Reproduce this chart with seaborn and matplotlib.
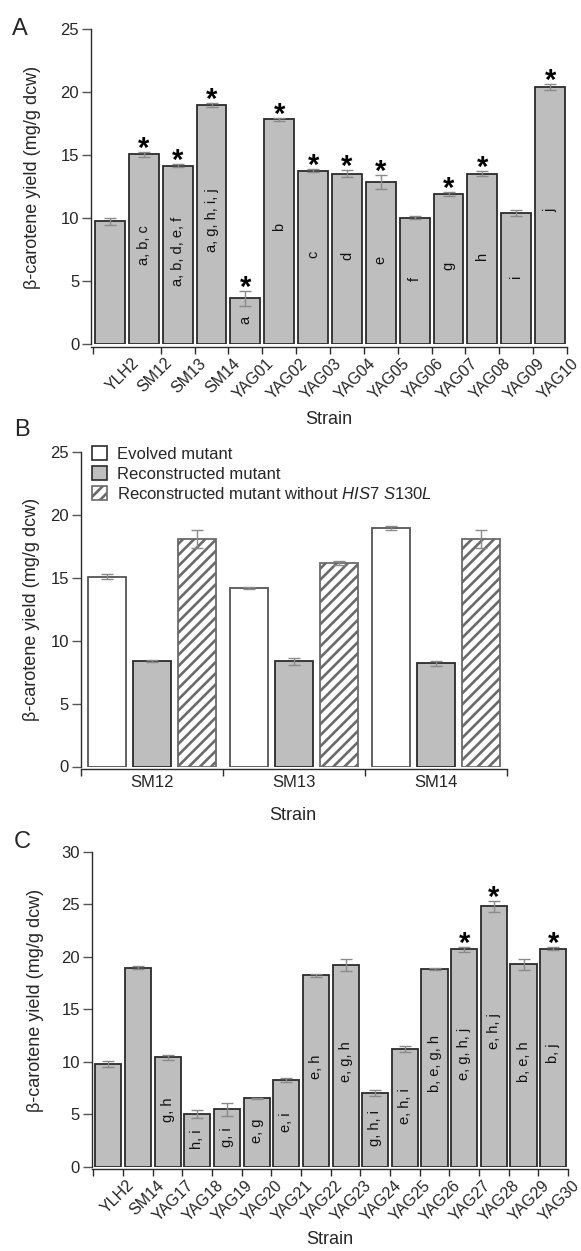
import numpy as np
import pandas as pd
import matplotlib
matplotlib.use("Agg")
import matplotlib.pyplot as plt
import seaborn as sns
from matplotlib.patches import Patch
from matplotlib.transforms import ScaledTranslation

# ---------------- data ----------------
strains_a = ["YLH2", "SM12", "SM13", "SM14", "YAG01", "YAG02", "YAG03", "YAG04",
             "YAG05", "YAG06", "YAG07", "YAG08", "YAG09", "YAG10"]
yield_a = [9.75, 15.08, 14.17, 18.97, 3.65, 17.86, 13.78, 13.55, 12.86, 10.05,
           11.95, 13.55, 10.42, 20.42]
err_a = [0.3, 0.2, 0.1, 0.15, 0.6, 0.1, 0.12, 0.25, 0.55, 0.1, 0.15, 0.2, 0.2, 0.25]
sig_a = [False, True, True, True, True, True, True, True, True, False, True, True,
         False, True]
groups_a = ["", "a, b, c", "a, b, d, e, f", "a, g, h, i, j", "a", "b", "c", "d",
            "e", "f", "g", "h", "i", "j"]

strains_b = ["SM12", "SM13", "SM14"]
types_b = ["Evolved mutant", "Reconstructed mutant",
           "Reconstructed mutant without HIS7 S130L"]
evolved_b = [15.08, 14.17, 18.97]
evolved_err_b = [0.2, 0.1, 0.15]
recon_b = [8.38, 8.35, 8.22]
recon_err_b = [0.1, 0.25, 0.2]
recon_wo_b = [18.1, 16.2, 18.1]
recon_wo_err_b = [0.7, 0.15, 0.7]

strains_c = ["YLH2", "SM14", "YAG17", "YAG18", "YAG19", "YAG20", "YAG21", "YAG22",
             "YAG23", "YAG24", "YAG25", "YAG26", "YAG27", "YAG28", "YAG29", "YAG30"]
yield_c = [9.78, 18.95, 10.42, 5.02, 5.46, 6.5, 8.22, 18.23, 19.2, 7.02, 11.18,
           18.86, 20.7, 24.8, 19.27, 20.76]
err_c = [0.3, 0.15, 0.25, 0.35, 0.6, 0.05, 0.2, 0.15, 0.6, 0.3, 0.3, 0.1, 0.25,
         0.5, 0.5, 0.15]
sig_c = [False] * 12 + [True, True, False, True]
groups_c = ["", "", "g, h", "h, i", "g, i", "e, g", "e, i", "e, h", "e, g, h",
            "g, h, i", "e, h, i", "b, e, g, h", "e, g, h, j", "e, h, j", "b, e, h",
            "b, j"]

# ---------------- style ----------------
sns.set_theme(style="white")
plt.rcParams["font.family"] = ["Liberation Sans", "DejaVu Sans"]
plt.rcParams["mathtext.fontset"] = "custom"
plt.rcParams["mathtext.it"] = "Liberation Sans:italic"
plt.rcParams["mathtext.rm"] = "Liberation Sans"
plt.rcParams["hatch.linewidth"] = 1.9

BAR = "#bebebe"
EDGE = "#2b2b2b"
ERR = "#8a8a8a"
W, H = 581, 1251
YLABEL = "β-carotene yield (mg/g dcw)"

fig = plt.figure(figsize=(W / 100, H / 100), dpi=100)


def axes_px(left, right, top, bottom):
    return fig.add_axes([left / W, (H - bottom) / H, (right - left) / W, (bottom - top) / H])


def style_axes(ax, ymax, ystep):
    for s in ["top", "right"]:
        ax.spines[s].set_visible(False)
    for s in ["left", "bottom"]:
        ax.spines[s].set_color(EDGE)
        ax.spines[s].set_linewidth(1.0)
    ax.spines["bottom"].set_position(("outward", 2))
    ax.set_ylim(0, ymax)
    ax.set_yticks(np.arange(0, ymax + 0.1, ystep))
    ax.tick_params(axis="y", direction="out", length=6.5, width=1, color="#555",
                   labelsize=12, pad=2, left=True)
    ax.tick_params(axis="x", direction="out", length=5, width=1, color=EDGE,
                   bottom=True, pad=1)
    ax.set_xlabel("")
    ax.set_ylabel("")


def strain_panel(ax, strains, values, errs, sig, groups, ymax, ystep, shift_px):
    sns.barplot(x=strains, y=values, color=BAR, saturation=1, width=0.88,
                edgecolor=EDGE, linewidth=1.3, errorbar=None, ax=ax)
    n = len(strains)
    ax.errorbar(np.arange(n), values, yerr=errs, fmt="none", ecolor=ERR,
                elinewidth=1, capsize=4, capthick=1, zorder=3)
    for i, (v, e, s, g) in enumerate(zip(values, errs, sig, groups)):
        if s:
            ax.annotate("*", (i, v + e), xytext=(0, -3.5), textcoords="offset points",
                        ha="center", va="baseline", fontsize=21, fontweight="bold",
                        color="black")
        if g:
            ax.text(i, v * 0.52, g, rotation=90, ha="center", va="center",
                    fontsize=10.5, color="#111")
    style_axes(ax, ymax, ystep)
    ax.set_xlim(-0.56, n - 0.5)
    ax.set_xticks(np.concatenate([[-0.5], np.arange(n) + 0.5]))
    ax.set_xticklabels([""] + strains, fontsize=11.5)
    offset = ScaledTranslation(shift_px / 100, 0, fig.dpi_scale_trans)
    for lab in ax.get_xticklabels():
        lab.set_rotation(45)
        lab.set_ha("right")
        lab.set_va("top")
        lab.set_rotation_mode("anchor")
        lab.set_transform(lab.get_transform() + offset)


# ---------------- panel A ----------------
axA = axes_px(91, 567, 29.3, 344.3)
strain_panel(axA, strains_a, yield_a, err_a, sig_a, groups_a, 25, 5, 4)
axA.xaxis.get_major_ticks()[1].tick1line.set_visible(False)
fig.text(33 / W, 1 - 177 / H, YLABEL, rotation=90, ha="center", va="center", fontsize=13)
fig.text(329 / W, 1 - 419 / H, "Strain", ha="center", va="center", fontsize=13)
fig.text(12 / W, 1 - 35 / H, "A", ha="left", va="baseline", fontsize=17)

# ---------------- panel B ----------------
axB = axes_px(80.7, 507, 452, 766.5)
df_b = pd.DataFrame({
    "strain": strains_b * 3,
    "type": [types_b[0]] * 3 + [types_b[1]] * 3 + [types_b[2]] * 3,
    "value": evolved_b + recon_b + recon_wo_b,
})
err_b = [evolved_err_b, recon_err_b, recon_wo_err_b]
sns.barplot(data=df_b, x="strain", y="value", hue="type", hue_order=types_b,
            palette=["white", BAR, "white"], saturation=1, width=0.95, gap=0.16,
            edgecolor=EDGE, linewidth=1.3, errorbar=None, legend=False, ax=axB)
bar_containers = list(axB.containers)
for k, cont in enumerate(bar_containers):
    xs = [p.get_x() + p.get_width() / 2 for p in cont.patches]
    hs = [p.get_height() for p in cont.patches]
    if k == 0:
        for p in cont.patches:
            p.set_edgecolor("#555555")
    if k == 2:
        for p in cont.patches:
            p.set_hatch("///")
            p.set_edgecolor("#6a6a6a")
    axB.errorbar(xs, hs, yerr=err_b[k], fmt="none", ecolor=ERR, elinewidth=1,
                 capsize=4, capthick=1, zorder=3)
style_axes(axB, 25, 5)
axB.set_xlim(-0.5, 2.5)
axB.set_xticks([-0.5, 0.5, 1.5, 2.5], minor=False)
axB.set_xticklabels([])
axB.set_xticks([0, 1, 2], minor=True)
axB.set_xticklabels(strains_b, minor=True, fontsize=12)
axB.tick_params(axis="x", which="minor", length=0, pad=4)
handles = [Patch(facecolor="white", edgecolor=EDGE, linewidth=1.2),
           Patch(facecolor=BAR, edgecolor=EDGE, linewidth=1.2),
           Patch(facecolor="white", edgecolor="#6a6a6a", hatch="///", linewidth=1.2)]
labels = ["Evolved mutant", "Reconstructed mutant",
          r"Reconstructed mutant without $\mathit{HIS7\ S130L}$"]
axB.legend(handles, labels, loc="upper left", bbox_to_anchor=(0.01, 1.04),
           frameon=False, fontsize=12, handlelength=0.9, handleheight=0.9,
           handletextpad=0.6, labelspacing=0.25, borderaxespad=0)
fig.text(32 / W, 1 - 609 / H, YLABEL, rotation=90, ha="center", va="center", fontsize=13)
fig.text(293 / W, 1 - 816 / H, "Strain", ha="center", va="center", fontsize=13)
fig.text(14 / W, 1 - 436 / H, "B", ha="left", va="baseline", fontsize=17)

# ---------------- panel C ----------------
axC = axes_px(91.7, 568, 851.7, 1166.7)
strain_panel(axC, strains_c, yield_c, err_c, sig_c, groups_c, 30, 5, 3.5)
fig.text(36 / W, 1 - 1000 / H, YLABEL, rotation=90, ha="center", va="center", fontsize=13)
fig.text(330 / W, 1 - 1240 / H, "Strain", ha="center", va="center", fontsize=13)
fig.text(14 / W, 1 - 848 / H, "C", ha="left", va="baseline", fontsize=17)

fig.savefig("out.png", dpi=100)
